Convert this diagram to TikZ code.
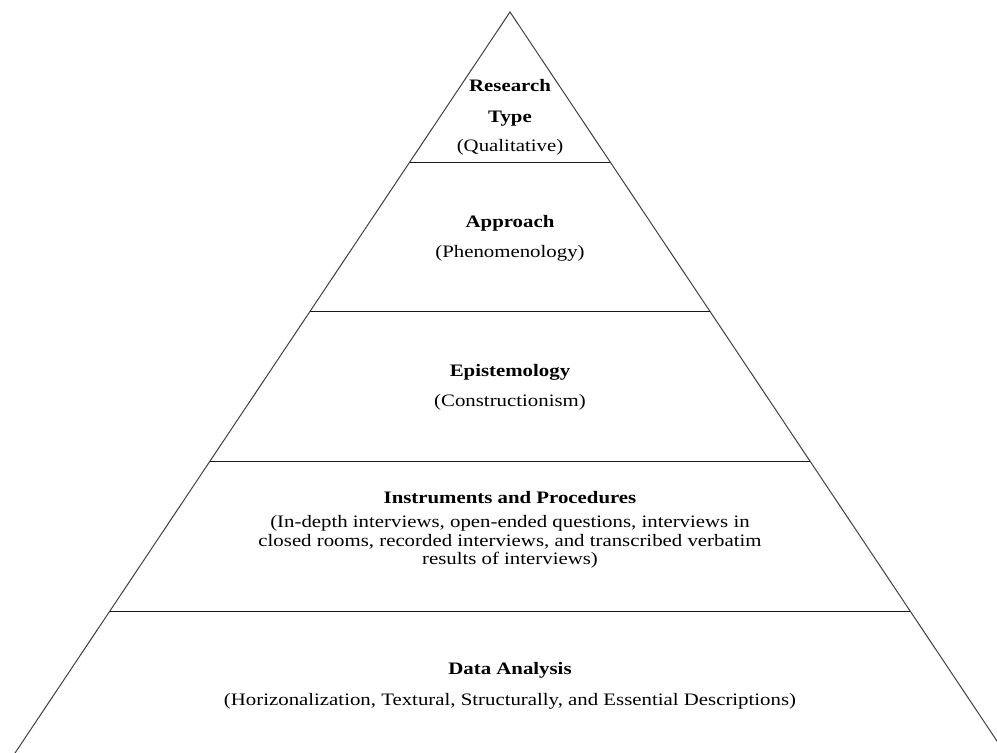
\documentclass[tikz,border=0pt]{standalone}
\usepackage{fontspec}
\setmainfont{Liberation Serif}
\usetikzlibrary{calc}
\tikzset{
  % outer sides of the pyramid
  pyrside/.style={line width=1pt, black!75},
  % lines between the levels
  divider/.style={line width=1pt, black!90},
  % level names
  title/.style={font=\fontsize{17.5}{31}\selectfont\bfseries, align=center,
    inner sep=0pt, xscale=1.19},
  % text under the level names
  sub/.style={font=\fontsize{17.5}{18.5}\selectfont, align=center,
    inner sep=0pt, xscale=1.19},
}

\begin{document}
\begin{tikzpicture}[x=1pt, y=-1pt]
  \useasboundingbox (0,0) rectangle (997,753);
  \clip (0,0) rectangle (997,753);

  \coordinate (apex) at (510,12);
  \coordinate (baseL) at ($(510,761)+(-0.668*749,0)$);
  \coordinate (baseR) at ($(510,761)+(0.668*749,0)$);
  \draw[pyrside] (baseL) -- (apex) -- (baseR);

  \foreach \y/\n in {162/a, 311/b, 461/c, 611/d}{
    \coordinate (l\n) at ($(510,\y)+(-0.668*\y+0.668*12,0)$);
    \coordinate (r\n) at ($(510,\y)+(0.668*\y-0.668*12,0)$);
    \draw[divider] (l\n) -- (r\n);
  }

  \node[title] (type) at (510,103) {Research\\Type};
  \node[sub] (typesub) at (510,147) {(Qualitative)};

  \node[title] (approach) at (510,223) {Approach};
  \node[sub] (approachsub) at (510,253) {(Phenomenology)};

  \node[title] (episteme) at (510,372) {Epistemology};
  \node[sub] (epistemesub) at (510,402) {(Constructionism)};

  \node[title] (instr) at (510,498) {Instruments and Procedures};
  \node[sub] (instrsub) at (510,542) {(In-depth interviews, open-ended questions, interviews in\\
    closed rooms, recorded interviews, and transcribed verbatim\\
    results of interviews)};

  \node[title] (analysis) at (510,670) {Data Analysis};
  \node[sub] (analysissub) at (510,701) {(Horizonalization, Textural, Structurally, and Essential Descriptions)};
\end{tikzpicture}
\end{document}
